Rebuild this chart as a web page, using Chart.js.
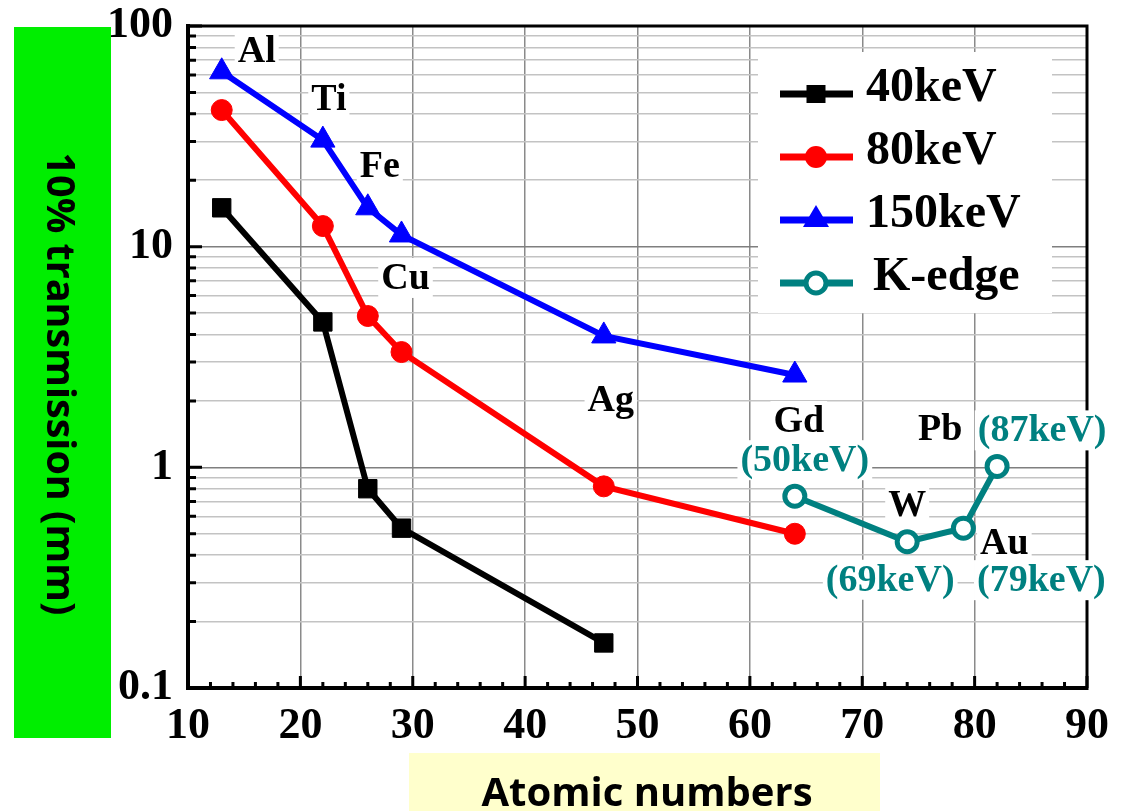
<!DOCTYPE html>
<html>
<head>
<meta charset="utf-8">
<script src="https://cdn.jsdelivr.net/npm/chart.js@4.4.0/dist/chart.umd.min.js"></script>
<style>
  html, body { margin: 0; padding: 0; background: #fff; }
  #chart { display: block; }
</style>
</head>
<body>
<canvas id="chart" width="1125" height="811"></canvas>
<script>
// Filter materials (atomic number)
const atomicNumbers = [13, 22, 26, 29, 47, 64];

// Thickness giving 10% transmission (mm) at each beam energy
const thickness40keV = [15.0, 4.56, 0.80, 0.53, 0.16];
const thickness80keV = [41.6, 12.4, 4.85, 3.33, 0.82, 0.50];
const thickness150keV = [62, 30.4, 15.0, 11.3, 3.94, 2.62];

// Gd, W, Au, Pb at their K-edge energies
const kEdgeNumbers = [64, 74, 79, 82];
const kEdgeThickness = [0.74, 0.46, 0.53, 1.01];

const seriesNames = ['40keV', '80keV', '150keV', 'K-edge'];
const yTickLabels = ['0.1', '1', '10', '100'];

const TEAL = '#008080';
const SERIF = "'Liberation Serif', 'Times New Roman', serif";
const SANS = "'Open Sans', 'Noto Sans', sans-serif";

const yMajor = yTickLabels.map(Number);
const yGridValues = [];
for (let e = -1; e < 2; e++) {
  for (let k = 1; k < 10; k++) yGridValues.push(Number((k * Math.pow(10, e)).toPrecision(2)));
}
yGridValues.push(100);

// text annotations, placed relative to a point of a dataset
const pointLabels = [
  { text: 'Al', ds: 2, i: 0, dx: 35, dy: -21 },
  { text: 'Ti', ds: 2, i: 1, dx: 6, dy: -41 },
  { text: 'Fe', ds: 2, i: 2, dx: 12, dy: -42 },
  { text: 'Cu', ds: 2, i: 3, dx: 4, dy: 43 },
  { text: 'Ag', ds: 2, i: 4, dx: 7, dy: 64 },
  { text: 'Gd', ds: 2, i: 5, dx: 4, dy: 46 },
  { text: '(50keV)', ds: 3, i: 0, dx: 10, dy: -36, color: TEAL },
  { text: 'W', ds: 3, i: 1, dx: 0, dy: -37 },
  { text: '(69keV)', ds: 3, i: 1, dx: -17, dy: 38, color: TEAL },
  { text: 'Au', ds: 3, i: 2, dx: 41, dy: 15 },
  { text: '(79keV)', ds: 3, i: 2, dx: 78, dy: 52, color: TEAL },
  { text: 'Pb', ds: 3, i: 3, dx: -57, dy: -37 },
  { text: '(87keV)', ds: 3, i: 3, dx: 45, dy: -36, color: TEAL }
];

const toPoints = (xs, ys) => ys.map((y, i) => ({ x: xs[i], y }));

// inner tick marks, top/right frame and the element labels
const framePlugin = {
  id: 'frame',
  beforeDatasetsDraw(chart) {
    const { ctx, chartArea: { left, right, top, bottom }, scales: { x, y } } = chart;
    ctx.save();
    ctx.strokeStyle = '#000';
    ctx.lineWidth = 3;
    ctx.beginPath();
    y.ticks.forEach(t => {
      const py = y.getPixelForValue(t.value);
      const len = yMajor.includes(t.value) ? 14 : 8;
      ctx.moveTo(left, py);
      ctx.lineTo(left + len, py);
    });
    for (let v = x.min; v <= x.max; v += 2) {
      const px = x.getPixelForValue(v);
      const len = v % 10 === 0 ? 12 : 6;
      ctx.moveTo(px, bottom);
      ctx.lineTo(px, bottom - len);
    }
    ctx.stroke();
    ctx.lineWidth = 3;
    ctx.beginPath();
    ctx.moveTo(left - 2, top);
    ctx.lineTo(right, top);
    ctx.lineTo(right, bottom + 2);
    ctx.stroke();

    ctx.font = `bold 38px ${SERIF}`;
    ctx.textAlign = 'center';
    ctx.textBaseline = 'middle';
    pointLabels.forEach(l => {
      const p = chart.getDatasetMeta(l.ds).data[l.i];
      const cx = p.x + l.dx, cy = p.y + l.dy;
      const w = ctx.measureText(l.text).width;
      ctx.fillStyle = '#fff';
      ctx.fillRect(cx - w / 2 - 3, cy - 20, w + 6, 40);
      ctx.fillStyle = l.color || '#000';
      ctx.fillText(l.text, cx, cy + 1);
    });
    ctx.restore();
  }
};

function drawMarker(ctx, style, x, y, color) {
  ctx.fillStyle = color;
  ctx.beginPath();
  if (style === 'rect') {
    ctx.rect(x - 9.5, y - 9, 19, 18);
    ctx.fill();
  } else if (style === 'triangle') {
    ctx.moveTo(x, y - 15);
    ctx.lineTo(x + 13, y + 7);
    ctx.lineTo(x - 13, y + 7);
    ctx.closePath();
    ctx.fill();
  } else if (style === 'open') {
    ctx.arc(x, y, 10, 0, Math.PI * 2);
    ctx.fillStyle = '#fff';
    ctx.fill();
    ctx.lineWidth = 5;
    ctx.strokeStyle = color;
    ctx.stroke();
  } else {
    ctx.arc(x, y, 11, 0, Math.PI * 2);
    ctx.fill();
  }
}

const legendPlugin = {
  id: 'boxLegend',
  afterDatasetsDraw(chart) {
    const { ctx, chartArea: { right, top } } = chart;
    const boxL = right - 329, boxT = top + 26;
    ctx.save();
    ctx.fillStyle = '#fff';
    ctx.fillRect(boxL, boxT, 294, 261);
    ctx.font = `bold 48px ${SERIF}`;
    ctx.textBaseline = 'middle';
    ctx.textAlign = 'left';
    chart.data.datasets.forEach((ds, i) => {
      const cy = boxT + 42 + i * 63;
      const lx = boxL + 22;
      ctx.strokeStyle = ds.borderColor;
      ctx.lineWidth = 7;
      ctx.beginPath();
      ctx.moveTo(lx, cy);
      ctx.lineTo(lx + 73, cy);
      ctx.stroke();
      drawMarker(ctx, ds.legendMarker, lx + 36, cy, ds.borderColor);
      ctx.fillStyle = '#000';
      ctx.fillText(ds.label, boxL + 108 + (i === 3 ? 7 : 0), cy - 5);
    });
    ctx.restore();
  }
};

// coloured boxes behind the axis titles
const titlePlugin = {
  id: 'axisTitles',
  afterDraw(chart) {
    const { ctx } = chart;
    ctx.save();
    ctx.fillStyle = '#00ee00';
    ctx.fillRect(14, 27, 97, 711);
    ctx.fillStyle = '#ffffcc';
    ctx.fillRect(409, 753, 471, 58);
    ctx.fillStyle = '#000';
    ctx.font = `bold 40px ${SANS}`;
    ctx.textAlign = 'center';
    ctx.textBaseline = 'alphabetic';
    ctx.fillText('Atomic numbers', 647, 806);
    ctx.translate(58, 384);
    ctx.rotate(Math.PI / 2);
    ctx.textBaseline = 'middle';
    ctx.fillText('10% transmission (mm)', 0, 0, 463);
    ctx.restore();
  }
};

new Chart(document.getElementById('chart'), {
  type: 'line',
  data: {
    datasets: [
      {
        label: seriesNames[0],
        data: toPoints(atomicNumbers, thickness40keV),
        borderColor: '#000', backgroundColor: '#000',
        pointStyle: 'rect', pointRadius: 13, legendMarker: 'rect'
      },
      {
        label: seriesNames[1],
        data: toPoints(atomicNumbers, thickness80keV),
        borderColor: '#ff0000', backgroundColor: '#ff0000',
        pointStyle: 'circle', pointRadius: 10.5, legendMarker: 'circle'
      },
      {
        label: seriesNames[2],
        data: toPoints(atomicNumbers, thickness150keV),
        borderColor: '#0000ff', backgroundColor: '#0000ff',
        pointStyle: 'triangle', pointRadius: 14, legendMarker: 'triangle'
      },
      {
        label: seriesNames[3],
        data: toPoints(kEdgeNumbers, kEdgeThickness),
        borderColor: TEAL, backgroundColor: '#fff',
        pointStyle: 'circle', pointRadius: 10, pointBorderWidth: 5,
        legendMarker: 'open'
      }
    ].map(ds => Object.assign({
      borderWidth: 6,
      tension: 0,
      fill: false,
      pointBorderColor: ds.borderColor,
      pointBackgroundColor: ds.backgroundColor,
      pointBorderWidth: 1
    }, ds))
  },
  options: {
    responsive: false,
    animation: false,
    events: [],
    layout: { padding: { left: 0, right: 38, top: 26, bottom: 0 } },
    plugins: { legend: { display: false }, tooltip: { enabled: false } },
    scales: {
      x: {
        type: 'linear',
        min: 10,
        max: 90,
        afterFit: (scale) => {
          scale.height = 123;
          scale.paddingLeft = 0;
          scale.paddingRight = 0;
        },
        ticks: {
          stepSize: 10,
          maxRotation: 0,
          padding: 12,
          color: '#000',
          font: { family: SERIF, size: 44, weight: 'bold' }
        },
        grid: { color: '#8a8a8a', lineWidth: 1.5, drawTicks: false },
        border: { color: '#000', width: 4 }
      },
      y: {
        type: 'logarithmic',
        min: 0.1,
        max: 100,
        afterFit: (scale) => {
          scale.width = 188;
          scale.paddingTop = 0;
          scale.paddingBottom = 0;
        },
        afterBuildTicks: (scale) => {
          scale.ticks = yGridValues.map(v => ({ value: v, major: yMajor.includes(v) }));
        },
        ticks: {
          autoSkip: false,
          padding: 15,
          color: '#000',
          font: { family: SERIF, size: 44, weight: 'bold' },
          callback: (value) => {
            const k = yMajor.indexOf(value);
            return k >= 0 ? yTickLabels[k] : '';
          }
        },
        grid: {
          color: (c) => (c.tick && yMajor.includes(c.tick.value)) ? '#7f7f7f' : '#c3c3c3',
          lineWidth: 1.5,
          drawTicks: false
        },
        border: { color: '#000', width: 4 }
      }
    }
  },
  plugins: [framePlugin, legendPlugin, titlePlugin]
});
</script>
</body>
</html>
